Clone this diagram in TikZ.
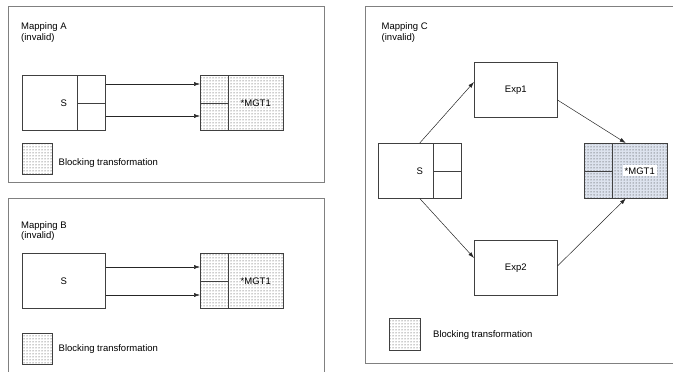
\documentclass[tikz,border=0pt]{standalone}
\usepackage{fontspec}
\setmainfont{Liberation Sans}
\usetikzlibrary{calc,arrows.meta,patterns}
\definecolor{mgtfill}{HTML}{DDE3EE}
\tikzset{
  frame/.style={draw=black!50, line width=0.8pt},
  tbl/.style={draw=black!75, line width=0.5pt, minimum width=83pt, minimum height=55pt, inner sep=0pt, anchor=north west},
  blocking/.style={tbl, pattern=dots, pattern color=black!85},
  keybox/.style={blocking, minimum width=30pt, minimum height=31pt},
  part/.style={draw=black!75, line width=0.5pt},
  title/.style={anchor=north west, inner sep=0pt, align=left},
  keytext/.style={anchor=west, inner sep=0pt},
  link/.style={draw=black!85, line width=0.5pt, -{Latex[length=6pt,width=4pt]}},
}

\begin{document}
\begin{tikzpicture}[x=1pt,y=-1pt,font=\fontsize{9.5}{10.5}\selectfont]
	\useasboundingbox (0,0) rectangle (673,372);
	% mapping A
	\draw[frame] (8,6) rectangle (324,182);
	\node[title] (tA) at (21,22.5) {Mapping A\\(invalid)};
	\node[tbl] (sA) at (22,75) {S};
	\draw[part] ($(sA.north west)+(55,0)$) -- ($(sA.south west)+(55,0)$);
	\draw[part] ($(sA.west)+(55,0)$) -- (sA.east);
	\node[blocking] (mA) at (200,75) {};
	\draw[part, line width=0.9pt] ($(mA.north west)+(28,0)$) -- ($(mA.south west)+(28,0)$);
	\draw[part] (mA.west) -- ($(mA.west)+(28,0)$);
	\node (gA) at ($(mA.center)+(14,0)$) {*MGT1};
	\draw[link] ($(sA.north east)+(0,9)$) -- ($(mA.north west)+(0,9)$);
	\draw[link] ($(sA.north east)+(0,41)$) -- ($(mA.north west)+(0,41)$);
	\node[keybox] (kA) at (22,143) {};
	\node[keytext] (kAt) at (58.5,163) {Blocking transformation};
	% mapping B
	\draw[frame] (8,372) |- (324,198) -- (324,372);
	\node[title] (tB) at (21,221) {Mapping B\\(invalid)};
	\node[tbl] (sB) at (22,253) {S};
	\node[blocking] (mB) at (200,253) {};
	\draw[part, line width=0.9pt] ($(mB.north west)+(28,0)$) -- ($(mB.south west)+(28,0)$);
	\draw[part] (mB.west) -- ($(mB.west)+(28,0)$);
	\node (gB) at ($(mB.center)+(14,0)$) {*MGT1};
	\draw[link] ($(sB.north east)+(0,14)$) -- ($(mB.north west)+(0,14)$);
	\draw[link] ($(sB.north east)+(0,42)$) -- ($(mB.north west)+(0,42)$);
	\node[keybox] (kB) at (22,333) {};
	\node[keytext] (kBt) at (58.5,349) {Blocking transformation};
	% mapping C
	\draw[frame] (673,6) -| (365,363) -- (673,363);
	\node[title] (tC) at (381.5,22.5) {Mapping C\\(invalid)};
	\node[tbl] (sC) at (378,143) {S};
	\draw[part] ($(sC.north west)+(55,0)$) -- ($(sC.south west)+(55,0)$);
	\draw[part] ($(sC.west)+(55,0)$) -- (sC.east);
	\node[tbl] (e1) at (474,62) {Exp1};
	\node[tbl] (e2) at (474,240) {Exp2};
	\node[blocking, preaction={fill=mgtfill}] (mC) at (584,143) {};
	\draw[part, line width=0.9pt] ($(mC.north west)+(28,0)$) -- ($(mC.south west)+(28,0)$);
	\draw[part] (mC.west) -- ($(mC.west)+(28,0)$);
	\node[fill=white, inner sep=2pt] (gC) at ($(mC.center)+(14,0)$) {*MGT1};
	\draw[link] (sC.north) -- ($(e1.north west)+(0,20)$);
	\draw[link] ($(e1.north east)+(0,38)$) -- (mC.north);
	\draw[link] (sC.south) -- ($(e2.north west)+(0,18)$);
	\draw[link] ($(e2.north east)+(0,26)$) -- (mC.south);
	\node[keybox, minimum width=31pt, minimum height=32pt] (kC) at (389,318) {};
	\node[keytext] (kCt) at (433,335) {Blocking transformation};
\end{tikzpicture}
\end{document}
